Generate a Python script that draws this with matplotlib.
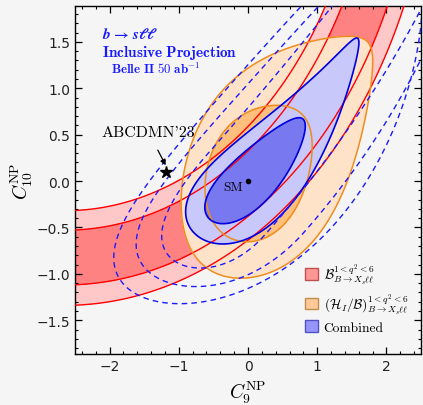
import numpy as np
import matplotlib
matplotlib.use("Agg")
import matplotlib.pyplot as plt
from matplotlib.patches import Patch
from matplotlib.ticker import MultipleLocator

plt.rcParams["mathtext.fontset"] = "cm"

# ---------------- data ----------------
# Branching-ratio constraint: circles in the (C9, C10) plane about a common centre
br_center = (-2.65, 4.00)
br_radii_1sigma = [4.53, 5.12]
br_radii_2sigma = [4.32, 5.34]

# Confidence-region shapes:
# [cx, cy, angle_deg, a_neg, a_pos, b, bend_neg, bend_pos, taper1, taper2]
hib_2sigma = [0.485, 0.343, 42, 1.70, 1.70, 1.02, 0.0, 0.0, 0.254, 0.231]
hib_1sigma = [0.172, 0.106, 40, 0.87, 0.87, 0.66, 0.0, 0.0, 0.10, 0.10]
comb_2sigma = [0.539, 0.322, 40, 1.585, 1.585, 0.46, 0.25, 0.25, 0.55, 0.0]
comb_1sigma = [0.149, 0.084, 36, 0.87, 0.87, 0.30, 0.07, 0.07, 0.20, 0.0]
dashed_inner = [-0.153, -0.129, 40, 1.20, 5.00, 0.60, 0.173, 0.60, 0.0, 0.0]
dashed_middle = [0.237, 0.107, 40, 2.00, 4.00, 0.873, 0.38, 0.38, 0.0, 0.0]
dashed_outer = [0.570, 0.348, 40, 2.76, 2.76, 1.06, 0.485, 0.485, 0.0, 0.0]

sm_point = (0.0, 0.0)
abcdmn_point = (-1.19, 0.10)

x_ticks = [-2, -1, 0, 1, 2]
y_ticks = [-1.5, -1.0, -0.5, 0.0, 0.5, 1.0, 1.5]
legend_labels = [r"$\mathcal{B}{}^{1<q^2<6}_{B\to X_s\ell\ell}$",
                 r"$(\mathcal{H}_I/\mathcal{B})^{1<q^2<6}_{B\to X_s\ell\ell}$",
                 "Combined"]

# ---------------- helpers ----------------
def region_q(X, Y, p):
    cx, cy, ang, a_neg, a_pos, b, bn, bp, k1, k2 = p
    th = np.deg2rad(ang)
    dx, dy = X - cx, Y - cy
    pv = dx * np.cos(th) + dy * np.sin(th)
    pu = -dx * np.sin(th) + dy * np.cos(th)
    t = np.where(pv < 0, pv / a_neg, pv / a_pos)
    m = np.where(pv < 0, bn, bp) * t ** 2
    w = np.maximum(b * (1 - k1 * t - k2 * t ** 2), 0.05)
    return t ** 2 + ((pu - m) / w) ** 2

xg = np.linspace(-2.7, 2.7, 900)
yg = np.linspace(-2.1, 2.1, 800)
X, Y = np.meshgrid(xg, yg)
R = np.hypot(X - br_center[0], Y - br_center[1])

BG = "#f5f5f5"
red_light, red_dark, red_line = "#ffc8c8", "#ff8282", "#ff0000"
org_light, org_dark, org_line = "#ffe3c8", "#ffc07e", "#f08c1e"
blu_light, blu_dark, blu_line = "#c8c8fa", "#7878f0", "#0000e0"

fig = plt.figure(figsize=(4.23, 4.06), dpi=100)
fig.patch.set_facecolor(BG)
ax = fig.add_axes([75 / 423, 51 / 406, 346 / 423, 347.7 / 406])
ax.set_facecolor(BG)

# fills
ax.contourf(X, Y, R, levels=br_radii_2sigma, colors=[red_light], zorder=1)
ax.contourf(X, Y, R, levels=br_radii_1sigma, colors=[red_dark], zorder=1.1)
ax.contourf(X, Y, region_q(X, Y, hib_2sigma), levels=[-1, 1], colors=[org_light], zorder=2)
ax.contourf(X, Y, region_q(X, Y, hib_1sigma), levels=[-1, 1], colors=[org_dark], zorder=2.1)
ax.contourf(X, Y, region_q(X, Y, comb_2sigma), levels=[-1, 1], colors=[blu_light], zorder=3)
ax.contourf(X, Y, region_q(X, Y, comb_1sigma), levels=[-1, 1], colors=[blu_dark], zorder=3.1)

# lines
ax.contour(X, Y, R, levels=sorted(br_radii_1sigma + br_radii_2sigma), colors=red_line,
           linewidths=1.0, zorder=4)
for p in (hib_2sigma, hib_1sigma):
    ax.contour(X, Y, region_q(X, Y, p), levels=[1], colors=org_line, linewidths=1.1, zorder=5)
for p in (comb_2sigma, comb_1sigma):
    ax.contour(X, Y, region_q(X, Y, p), levels=[1], colors=blu_line, linewidths=1.2, zorder=6)
for p in (dashed_inner, dashed_middle, dashed_outer):
    ax.contour(X, Y, region_q(X, Y, p), levels=[1], colors="#1a1aff", linewidths=1.0,
               linestyles=[(0, (4, 3))], zorder=7)

# points and annotations
ax.plot(*sm_point, "o", color="black", ms=3, zorder=9)
ax.text(sm_point[0] - 0.07, sm_point[1] - 0.06, "SM", fontfamily="cmr10", fontsize=9.5,
        ha="right", va="center", zorder=9)
ax.plot(*abcdmn_point, "*", color="black", ms=9, zorder=9)
ax.annotate("ABCDMN'23", xy=(abcdmn_point[0], abcdmn_point[1] + 0.07),
            xytext=(-1.44, 0.53), fontfamily="cmr10", fontsize=11.5, ha="center",
            va="center",
            arrowprops=dict(arrowstyle="-|>", color="black", lw=0.9, mutation_scale=8,
                            shrinkA=7, shrinkB=0), zorder=9)

ax.text(-2.11, 1.595, r"$\mathbfit{b}\,\mathbf{\rightarrow}\,\mathbfit{s\ell\ell}$",
        math_fontfamily="stix", color="#1a1aff", fontsize=11, ha="left", va="center",
        zorder=9)
ax.text(-2.11, 1.395, r"$\mathbf{Inclusive\ Projection}$", color="#1a1aff", fontsize=11,
        ha="left", va="center", zorder=9)
ax.text(-1.98, 1.21, r"$\mathbf{Belle\ II\ 50\ ab}^{\mathbf{-1}}$", color="#1a1aff",
        fontsize=9.3, ha="left", va="center", zorder=9)

# axes styling
ax.set_xlim(-2.5, 2.5)
ax.set_ylim(-1.864, 1.883)
ax.set_xticks(x_ticks)
ax.set_yticks(y_ticks)
ax.xaxis.set_minor_locator(MultipleLocator(0.2))
ax.yaxis.set_minor_locator(MultipleLocator(0.1))
ax.tick_params(which="both", direction="in", top=True, right=True, labelsize=10,
               labelcolor="#222222")
ax.tick_params(which="major", length=5, width=0.9)
ax.tick_params(which="minor", length=2.5, width=0.8)
for s in ax.spines.values():
    s.set_linewidth(1.0)
ax.set_xlabel(r"$C_9^{\mathrm{NP}}$", fontsize=14, labelpad=4)
ax.set_ylabel(r"$C_{10}^{\mathrm{NP}}$", fontsize=14, labelpad=1)

handles = [Patch(facecolor="#ff9696", edgecolor="#c05050", lw=1.0),
           Patch(facecolor="#ffc896", edgecolor="#c08c50", lw=1.0),
           Patch(facecolor="#9696fa", edgecolor="#5050c0", lw=1.0)]
leg = ax.legend(handles, legend_labels, loc="lower right", bbox_to_anchor=(0.994, 0.027),
                frameon=False, handlelength=0.95, handleheight=0.95,
                handletextpad=0.45, labelspacing=0.35, borderpad=0.3,
                prop={"family": "cmr10", "size": 9.7})
leg.set_zorder(10)

fig.savefig("out.png", dpi=100, facecolor=BG)
